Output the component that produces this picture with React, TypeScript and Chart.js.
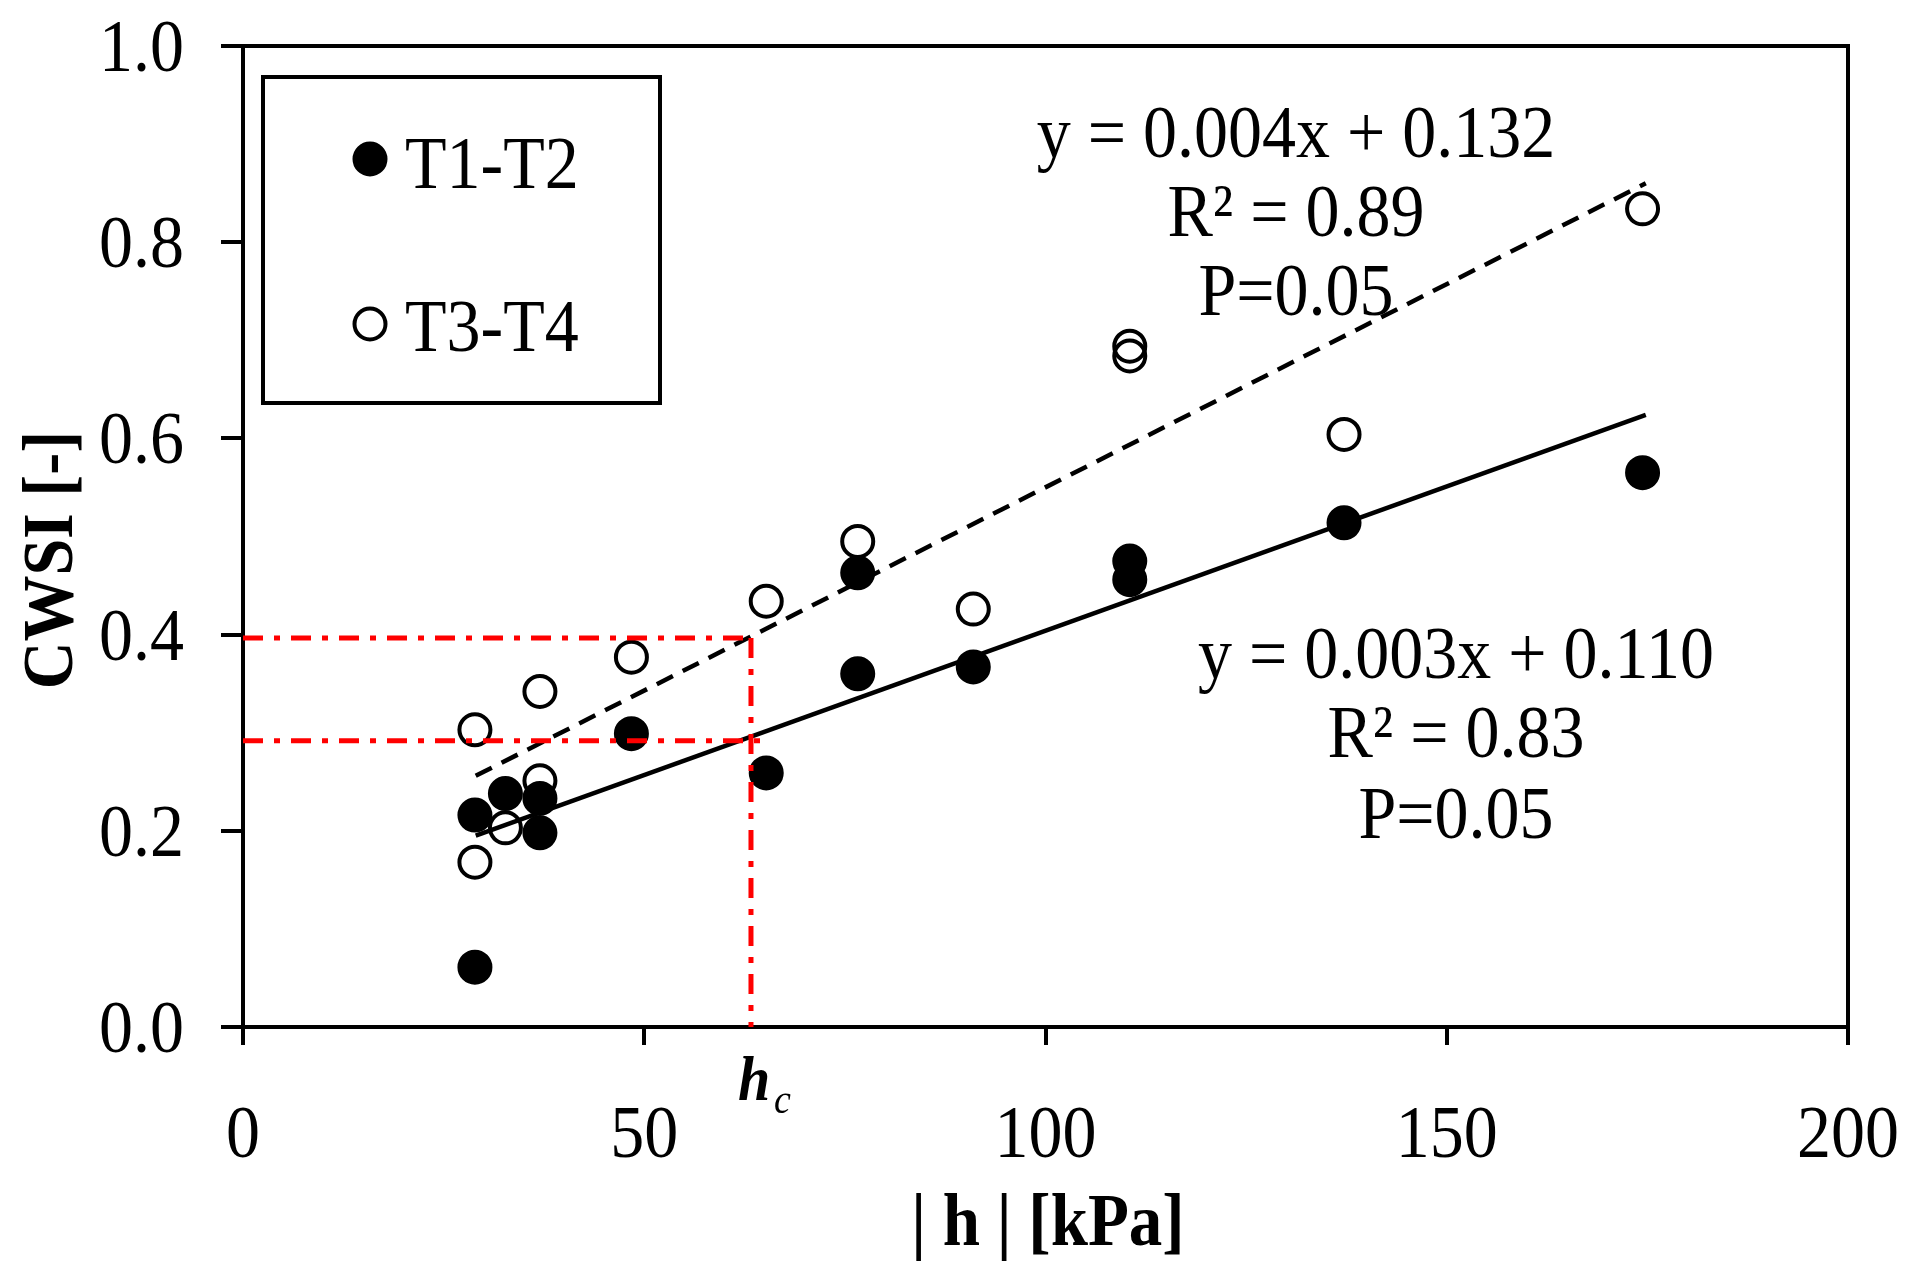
import React, { useEffect, useRef } from 'react';
import { Chart, registerables } from 'chart.js';

Chart.register(...registerables);

const W = 1922;
const H = 1282;
const FONT = '"Liberation Serif", "Times New Roman", serif';
const STRETCH = 1.1;

// T1-T2 (filled markers)
const t12X = [28.9, 28.9, 32.7, 37.0, 37.0, 48.4, 65.2, 76.6, 76.6, 91.0, 110.5, 110.5, 137.2, 174.4];
const t12Y = [0.061, 0.216, 0.238, 0.233, 0.198, 0.299, 0.259, 0.463, 0.36, 0.367, 0.475, 0.456, 0.514, 0.565];
// T3-T4 (open markers)
const t34X = [28.9, 28.9, 32.7, 37.0, 37.0, 48.4, 65.2, 76.6, 91.0, 110.5, 110.5, 137.2, 174.4];
const t34Y = [0.303, 0.168, 0.203, 0.342, 0.251, 0.377, 0.434, 0.495, 0.426, 0.694, 0.684, 0.604, 0.834];

// Regression line end points
const fitX = [29.0, 174.8];
const fit12Y = [0.195, 0.624];
const fit34Y = [0.256, 0.86];

// Critical h reference lines
const hcX = 63.3;
const hcUpperY = 0.3966;
const hcLowerY = 0.2918;
const hcLowerEndX = 65.6;

const xTickValues = [0, 50, 100, 150, 200];
const yTickValues = [0, 0.2, 0.4, 0.6, 0.8, 1.0];

const eq34 = ['y = 0.004x + 0.132', 'R² = 0.89', 'P=0.05'];
const eq12 = ['y = 0.003x + 0.110', 'R² = 0.83', 'P=0.05'];
const legendLabels = ['T1-T2', 'T3-T4'];
const xTitle = '| h | [kPa]';
const yTitle = 'CWSI [-]';

const toPts = (xs: number[], ys: number[]) => xs.map((x, i) => ({ x, y: ys[i] }));

function txt(
  ctx: CanvasRenderingContext2D,
  s: string,
  x: number,
  y: number,
  font: string,
  align: CanvasTextAlign,
  rot = 0
) {
  ctx.save();
  ctx.translate(x, y);
  if (rot) ctx.rotate(rot);
  ctx.scale(1, STRETCH);
  ctx.font = font;
  ctx.textAlign = align;
  ctx.textBaseline = 'alphabetic';
  ctx.fillText(s, 0, 0);
  ctx.restore();
}

const decorPlugin = {
  id: 'decor',
  afterDraw(chart: any) {
    const ctx = chart.ctx as CanvasRenderingContext2D;
    const { left, right, top, bottom } = chart.chartArea;
    const xs = chart.scales.x;
    const ys = chart.scales.y;
    ctx.save();
    // top and right frame
    ctx.strokeStyle = '#000';
    ctx.lineWidth = 4;
    ctx.lineCap = 'butt';
    ctx.beginPath();
    ctx.moveTo(left - 2, top);
    ctx.lineTo(right, top);
    ctx.lineTo(right, bottom + 2);
    ctx.stroke();

    ctx.fillStyle = '#000';
    const tickFont = `68px ${FONT}`;
    // tick labels
    yTickValues.forEach((v) => {
      txt(ctx, v.toFixed(1), left - 59, ys.getPixelForValue(v) + 25, tickFont, 'right');
    });
    xTickValues.forEach((v) => {
      txt(ctx, String(v), xs.getPixelForValue(v), 1157, tickFont, 'center');
    });

    // axis titles
    txt(ctx, yTitle, 72, 560, `bold 66px ${FONT}`, 'center', -Math.PI / 2);
    txt(ctx, xTitle, 1048, 1245, `bold 67px ${FONT}`, 'center');

    // h_c label
    const hp = xs.getPixelForValue(hcX);
    txt(ctx, 'h', hp - 13, 1100, `italic bold 58px ${FONT}`, 'left');
    txt(ctx, 'c', hp + 23, 1113, `italic 38px ${FONT}`, 'left');

    // equations
    const eqFont = `68px ${FONT}`;
    const b34 = [157, 236, 315];
    eq34.forEach((t, i) => txt(ctx, t, 1296, b34[i], eqFont, 'center'));
    const b12 = [678, 757, 838];
    eq12.forEach((t, i) => txt(ctx, t, 1456, b12[i], eqFont, 'center'));

    // legend
    ctx.lineWidth = 4;
    ctx.strokeRect(263, 77, 397, 326);
    const r = 15.5;
    ctx.beginPath();
    ctx.arc(370, 159, r, 0, Math.PI * 2);
    ctx.fill();
    ctx.stroke();
    ctx.beginPath();
    ctx.arc(370, 324, r, 0, Math.PI * 2);
    ctx.stroke();
    txt(ctx, legendLabels[0], 405, 188, `68px ${FONT}`, 'left');
    txt(ctx, legendLabels[1], 405, 351, `68px ${FONT}`, 'left');
    ctx.restore();
  },
};

export default function App() {
  const ref = useRef<HTMLCanvasElement | null>(null);

  useEffect(() => {
    if (!ref.current) return;
    const redDash = [20, 11, 6, 11];
    const redLine = (pts: { x: number; y: number }[]) =>
      ({
        type: 'line',
        data: pts,
        borderColor: '#ff0000',
        borderWidth: 5,
        borderDash: redDash,
        pointRadius: 0,
        fill: false,
      } as any);
    const chart = new Chart(ref.current, {
      type: 'scatter',
      data: {
        datasets: [
          redLine([
            { x: 0, y: hcUpperY },
            { x: hcX, y: hcUpperY },
          ]),
          redLine([
            { x: 0, y: hcLowerY },
            { x: hcLowerEndX, y: hcLowerY },
          ]),
          redLine([
            { x: hcX, y: hcUpperY },
            { x: hcX, y: 0 },
          ]),
          {
            label: legendLabels[0],
            data: toPts(t12X, t12Y),
            backgroundColor: '#000',
            borderColor: '#000',
            borderWidth: 4,
            pointRadius: 15.5,
          },
          {
            label: legendLabels[1],
            data: toPts(t34X, t34Y),
            backgroundColor: 'rgba(0,0,0,0)',
            borderColor: '#000',
            borderWidth: 4,
            pointRadius: 15.5,
          },
          {
            type: 'line',
            data: toPts(fitX, fit12Y),
            borderColor: '#000',
            borderWidth: 4.5,
            pointRadius: 0,
            fill: false,
          } as any,
          {
            type: 'line',
            data: toPts(fitX, fit34Y),
            borderColor: '#000',
            borderWidth: 4.5,
            borderDash: [18, 11],
            pointRadius: 0,
            fill: false,
          } as any,
        ],
      },
      options: {
        animation: false,
        responsive: false,
        devicePixelRatio: 1,
        events: [],
        layout: { padding: { left: 0, top: 46, right: 74, bottom: 0 } },
        plugins: {
          legend: { display: false },
          tooltip: { enabled: false },
          title: { display: false },
        },
        scales: {
          x: {
            type: 'linear',
            min: 0,
            max: 200,
            afterFit: (s: any) => {
              s.height = 255;
              s.paddingLeft = 0;
              s.paddingRight = 0;
            },
            afterBuildTicks: (s: any) => {
              s.ticks = xTickValues.map((v) => ({ value: v }));
            },
            grid: {
              drawOnChartArea: false,
              drawTicks: true,
              tickLength: 18,
              lineWidth: 4,
              color: '#000',
            },
            border: { display: true, width: 4, color: '#000' },
            ticks: { display: false },
          },
          y: {
            type: 'linear',
            min: 0,
            max: 1,
            afterFit: (s: any) => {
              s.width = 243;
              s.paddingTop = 0;
              s.paddingBottom = 0;
            },
            afterBuildTicks: (s: any) => {
              s.ticks = yTickValues.map((v) => ({ value: v }));
            },
            grid: {
              drawOnChartArea: false,
              drawTicks: true,
              tickLength: 22,
              lineWidth: 4,
              color: '#000',
            },
            border: { display: true, width: 4, color: '#000' },
            ticks: { display: false },
          },
        },
      },
      plugins: [decorPlugin],
    });
    return () => chart.destroy();
  }, []);

  return (
    <div style={{ position: 'absolute', left: 0, top: 0, width: W, height: H, background: '#fff' }}>
      <canvas ref={ref} width={W} height={H} style={{ display: 'block', width: W, height: H }} />
    </div>
  );
}
